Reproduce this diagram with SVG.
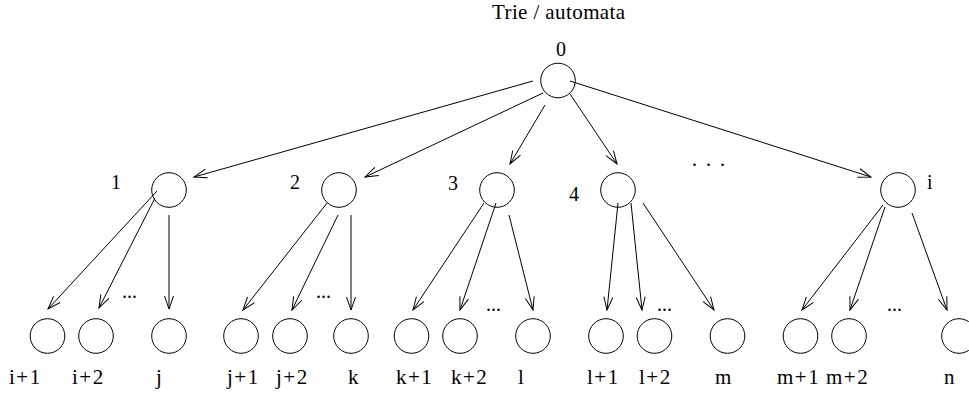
<svg xmlns="http://www.w3.org/2000/svg" width="969" height="397" viewBox="0 0 969 397">
  <style>
    .node { fill: none; stroke: #000; stroke-width: 1; }
    .edge { fill: none; stroke: #000; stroke-width: 1; marker-end: url(#arrow); }
    text { font-family: "Liberation Serif", "Times New Roman", serif; font-size: 20px; fill: #000; }
    .title { font-size: 21px; letter-spacing: 0.4px; }
    .leaf-label { font-size: 21px; letter-spacing: 1.5px; }
  </style>
  <defs>
    <marker id="arrow" markerUnits="userSpaceOnUse" viewBox="-14 -6 16 12" refX="0" refY="0" markerWidth="16" markerHeight="12" orient="auto">
      <path d="M-13,-4.5 L0,0 L-13,4.5" fill="none" stroke="#000" stroke-width="1"/>
    </marker>
  </defs>

  <rect width="969" height="397" fill="#fff"/>

  <text class="title" x="492" y="19">Trie / automata</text>

  <!-- connectors -->
  <g id="edges">
    <line class="edge" x1="533" y1="81" x2="194" y2="177"/>
    <line class="edge" x1="543" y1="93" x2="365" y2="177"/>
    <line class="edge" x1="545" y1="105" x2="510" y2="164"/>
    <line class="edge" x1="570" y1="94" x2="617" y2="164"/>
    <line class="edge" x1="570" y1="81" x2="871" y2="177"/>

    <line class="edge" x1="157" y1="191" x2="48" y2="309"/>
    <line class="edge" x1="155" y1="198" x2="99" y2="308"/>
    <line class="edge" x1="169" y1="215" x2="169" y2="309"/>

    <line class="edge" x1="327" y1="203" x2="243" y2="310"/>
    <line class="edge" x1="338" y1="215" x2="292" y2="310"/>
    <line class="edge" x1="351" y1="215" x2="351" y2="310"/>

    <line class="edge" x1="484" y1="203" x2="413" y2="310"/>
    <line class="edge" x1="496" y1="203" x2="460" y2="310"/>
    <line class="edge" x1="509" y1="215" x2="533" y2="310"/>

    <line class="edge" x1="618" y1="203" x2="607" y2="310"/>
    <line class="edge" x1="631" y1="203" x2="642" y2="310"/>
    <line class="edge" x1="643" y1="203" x2="714" y2="310"/>

    <line class="edge" x1="883" y1="205" x2="802" y2="310"/>
    <line class="edge" x1="885" y1="207" x2="850" y2="310"/>
    <line class="edge" x1="912" y1="213" x2="947" y2="310"/>
  </g>

  <!-- root -->
  <g id="n0">
    <circle class="node" cx="558" cy="80.5" r="17.3"/>
    <text x="556" y="56">0</text>
  </g>

  <!-- first level -->
  <g id="n1">
    <circle class="node" cx="169" cy="190" r="17.3"/>
    <text x="111" y="189">1</text>
  </g>
  <g id="n2">
    <circle class="node" cx="339" cy="190" r="17.3"/>
    <text x="290" y="189">2</text>
  </g>
  <g id="n3">
    <circle class="node" cx="497" cy="190" r="17.3"/>
    <text x="448" y="190">3</text>
  </g>
  <g id="n4">
    <circle class="node" cx="618" cy="190" r="17.3"/>
    <text x="569" y="201">4</text>
  </g>
  <g id="ni">
    <circle class="node" cx="898" cy="190" r="17.3"/>
    <text x="927" y="189">i</text>
  </g>
  <text x="692" y="166" font-size="18" letter-spacing="2">. . .</text>

  <!-- leaves -->
  <g id="leaf-i1"><circle class="node" cx="47.5" cy="336" r="17.3"/><text class="leaf-label" x="9" y="384">i+1</text></g>
  <g id="leaf-i2"><circle class="node" cx="96" cy="336" r="17.3"/><text class="leaf-label" x="72" y="384">i+2</text></g>
  <g id="leaf-j"><circle class="node" cx="169" cy="336" r="17.3"/><text class="leaf-label" x="156" y="384">j</text></g>
  <g id="leaf-j1"><circle class="node" cx="241" cy="336" r="17.3"/><text class="leaf-label" x="227" y="384">j+1</text></g>
  <g id="leaf-j2"><circle class="node" cx="290" cy="336" r="17.3"/><text class="leaf-label" x="276" y="384">j+2</text></g>
  <g id="leaf-k"><circle class="node" cx="351" cy="336" r="17.3"/><text class="leaf-label" x="348" y="384">k</text></g>
  <g id="leaf-k1"><circle class="node" cx="411.5" cy="336" r="17.3"/><text class="leaf-label" x="396" y="384">k+1</text></g>
  <g id="leaf-k2"><circle class="node" cx="460" cy="336" r="17.3"/><text class="leaf-label" x="451" y="384">k+2</text></g>
  <g id="leaf-l"><circle class="node" cx="533" cy="336" r="17.3"/><text class="leaf-label" x="518" y="384">l</text></g>
  <g id="leaf-l1"><circle class="node" cx="606" cy="336" r="17.3"/><text class="leaf-label" x="587" y="384">l+1</text></g>
  <g id="leaf-l2"><circle class="node" cx="654.5" cy="336" r="17.3"/><text class="leaf-label" x="639" y="384">l+2</text></g>
  <g id="leaf-m"><circle class="node" cx="727.5" cy="336" r="17.3"/><text class="leaf-label" x="715" y="384">m</text></g>
  <g id="leaf-m1"><circle class="node" cx="800.5" cy="336" r="17.3"/><text class="leaf-label" x="777" y="384">m+1</text></g>
  <g id="leaf-m2"><circle class="node" cx="849" cy="336" r="17.3"/><text class="leaf-label" x="826" y="384">m+2</text></g>
  <g id="leaf-n"><circle class="node" cx="959" cy="336" r="17.3"/><text class="leaf-label" x="944" y="384">n</text></g>

  <!-- ellipses between siblings -->
  <g id="gaps">
    <text x="122" y="298" font-size="18">...</text>
    <text x="316" y="298" font-size="18">...</text>
    <text x="486" y="311" font-size="18">...</text>
    <text x="657" y="311" font-size="18">...</text>
    <text x="887" y="311" font-size="18">...</text>
  </g>
</svg>
